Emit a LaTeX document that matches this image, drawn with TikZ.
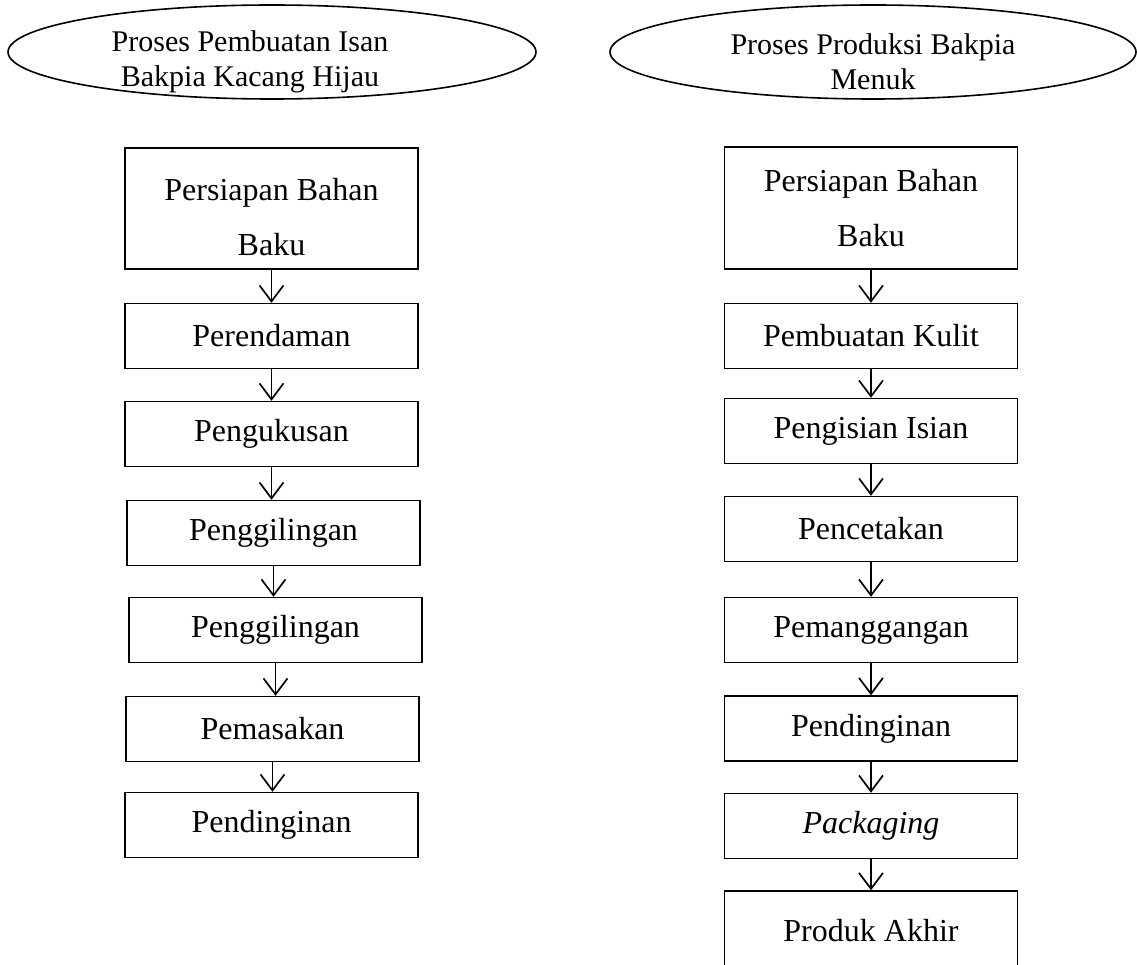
\documentclass[tikz,border=0pt]{standalone}
\usepackage{fontspec}
\setmainfont{Liberation Serif}
\usetikzlibrary{shapes.geometric,arrows.meta}
\begin{document}
\begin{tikzpicture}[x=1pt,y=-1pt,
  stepbox/.style={draw,line width=1.4pt,minimum width=293pt,minimum height=65pt,
    inner sep=0pt,align=center,font=\fontsize{32}{55}\selectfont},
  titleoval/.style={draw,ellipse,line width=1.6pt,inner sep=0pt,minimum height=94pt},
  titletext/.style={align=center,inner sep=0pt,font=\fontsize{30}{35}\selectfont},
  flow/.style={line width=1.7pt,
    -{Straight Barb[length=16pt,width=24pt,line width=1.7pt]}}]
\useasboundingbox (0,0) rectangle (1137,965);

% left column: filling preparation
\node[titleoval,minimum width=528pt] (lt) at (272,52) {};
\node[titletext] (ltx) at (250,62) {Proses Pembuatan Isan\\Bakpia Kacang Hijau};

\node[stepbox,minimum height=121pt] (l1) at (271.5,208.5)
  {\rule{0pt}{40pt}Persiapan Bahan\\Baku};
\node[stepbox] (l2) at (271.5,336) {Perendaman};
\node[stepbox] (l3) at (271.5,434) {Pengukusan};
\node[stepbox] (l4) at (273.5,533) {Penggilingan};
\node[stepbox] (l5) at (275.5,630) {Penggilingan};
\node[stepbox] (l6) at (272.5,729) {Pemasakan};
\node[stepbox] (l7) at (271.5,825) {Pendinginan};

% right column: bakpia production
\node[titleoval,minimum width=526pt] (rt) at (873,52) {};
\node[titletext] (rtx) at (873,62) {Proses Produksi Bakpia\\Menuk};

\node[stepbox,minimum height=122pt] (r1) at (871,208) {Persiapan Bahan\\Baku};
\node[stepbox] (r2) at (871,336) {Pembuatan Kulit};
\node[stepbox] (r3) at (871,431) {Pengisian Isian};
\node[stepbox] (r4) at (871,529) {Pencetakan};
\node[stepbox] (r5) at (871,630) {Pemanggangan};
\node[stepbox] (r6) at (871,728.5) {Pendinginan};
\node[stepbox] (r7) at (871,826) {\itshape Packaging};
\node[stepbox,minimum height=80pt] (r8) at (871,931) {Produk Akhir};

% connectors
\foreach \a/\b in {l1/l2,l2/l3,l3/l4,l4/l5,l5/l6,l6/l7,
                   r1/r2,r2/r3,r3/r4,r4/r5,r5/r6,r6/r7,r7/r8}
  \draw[flow] (\a.south) -- (\a.south |- \b.north);
\end{tikzpicture}
\end{document}
